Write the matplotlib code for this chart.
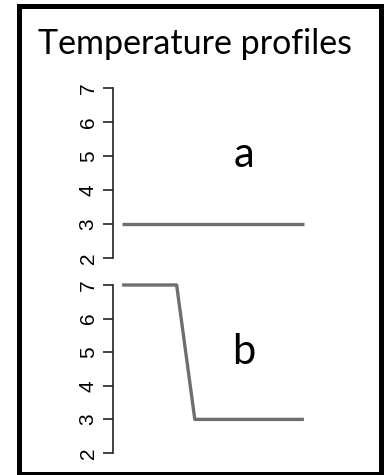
import matplotlib
matplotlib.use("Agg")
import matplotlib.pyplot as plt
from matplotlib.patches import Rectangle

# data
x_a = [0, 10]
y_a = [3, 3]
x_b = [0, 3, 4, 10]
y_b = [7, 7, 3, 3]
y_ticks = [2, 3, 4, 5, 6, 7]
title = "Temperature profiles"

W, H = 384, 475
fig = plt.figure(figsize=(W / 100, H / 100), dpi=100)

def px_axes(left, top, right, bottom):
    return fig.add_axes([left / W, 1 - bottom / H, (right - left) / W, (bottom - top) / H])

line_col = "#6e6e6e"

def style(ax):
    ax.set_xlim(-0.5, 10.5)
    ax.set_ylim(2, 7)
    for s in ["top", "right", "bottom"]:
        ax.spines[s].set_visible(False)
    ax.spines["left"].set_linewidth(1.2)
    ax.spines["left"].set_color("#222222")
    ax.set_xticks([])
    ax.set_yticks(y_ticks)
    ax.set_yticklabels([str(t) for t in y_ticks], rotation=90, va="center",
                       fontsize=15, family="Liberation Sans")
    ax.tick_params(axis="y", length=7, width=1.2, color="#222222", pad=4)
    ax.patch.set_visible(False)

ax1 = px_axes(113, 88, 313, 258)
style(ax1)
ax1.plot(x_a, y_a, color=line_col, lw=2.4, clip_on=False, solid_capstyle="butt")

ax2 = px_axes(113, 285, 313, 453)
style(ax2)
ax2.plot(x_b, y_b, color=line_col, lw=2.4, clip_on=False, solid_capstyle="butt")

fig.text(195 / W, 1 - 44 / H, title, ha="center", va="center", fontsize=24.5, family="Lato")
fig.text(244 / W, 1 - 155 / H, "a", ha="center", va="center", fontsize=30, family="Lato")
fig.text(244 / W, 1 - 352 / H, "b", ha="center", va="center", fontsize=30, family="Lato")

fig.patches.append(Rectangle((18.5 / W, 1 - 473.5 / H), (381 - 18.5) / W, (473.5 - 5.5) / H,
                             transform=fig.transFigure, fill=False, lw=3.6, ec="black"))

fig.savefig("out.png", dpi=100)
